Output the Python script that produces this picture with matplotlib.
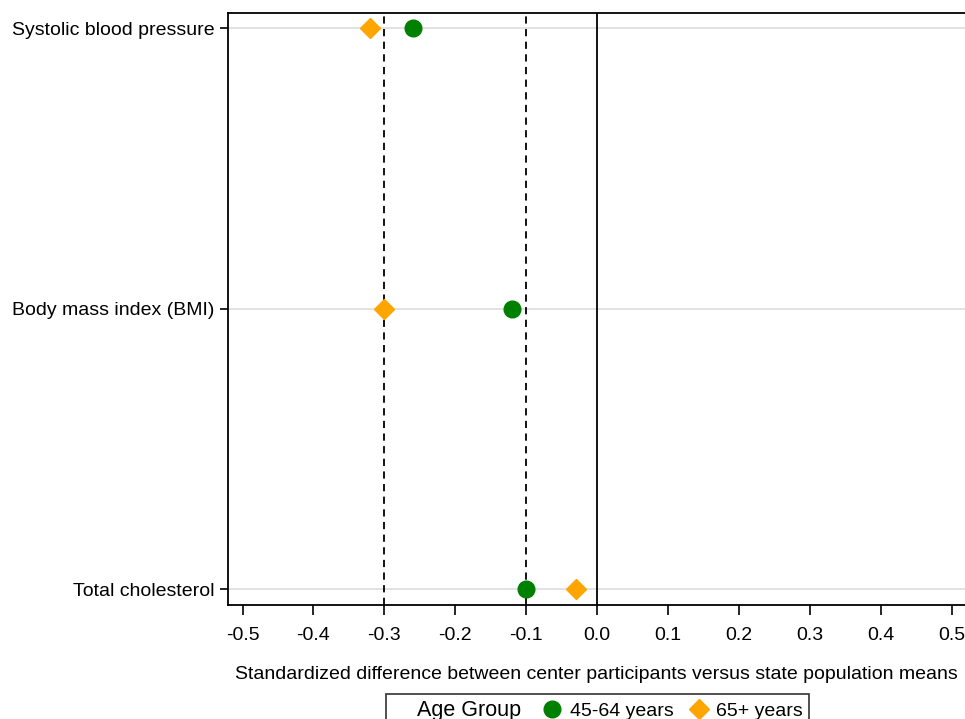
import matplotlib
matplotlib.use("Agg")
from matplotlib import pyplot as plt
from matplotlib.lines import Line2D

plt.rcParams['font.family'] = ['Liberation Sans', 'DejaVu Sans']

measures = ['Systolic blood pressure', 'Body mass index (BMI)', 'Total cholesterol']
age_45_64 = [-0.26, -0.12, -0.10]
age_65 = [-0.32, -0.30, -0.03]
xticks = [-0.5, -0.4, -0.3, -0.2, -0.1, 0.0, 0.1, 0.2, 0.3, 0.4, 0.5]
ref_lines = [-0.3, -0.1]

fig = plt.figure(figsize=(9.65, 7.19), dpi=100)
ax = fig.add_axes([0.2363, 0.1585, 0.7637, 0.8235])

ypos = [2, 1, 0]
for y in ypos:
    ax.axhline(y, color='#dddddd', lw=1.2, zorder=0)
for r in ref_lines:
    ax.axvline(r, color='k', ls=(0, (4, 3)), lw=1.3, zorder=1)
ax.axvline(0.0, color='k', lw=1.3, zorder=1)

ax.plot(age_45_64, ypos, 'o', color='green', ms=12, ls='none', zorder=3)
ax.plot(age_65, ypos, 'D', color='orange', ms=10, ls='none', zorder=3)

ax.set_xlim(-0.5205, 0.519)
ax.set_ylim(-0.057, 2.054)
ax.set_xticks(xticks)
ax.set_xticklabels(['%.1f' % v for v in xticks])
ax.set_yticks(ypos)
ax.set_yticklabels(measures)
ax.tick_params(axis='x', labelsize=14, length=7, width=1.2, pad=9)
ax.tick_params(axis='y', labelsize=14, length=6, width=1.2, pad=4)
for s in ax.spines.values():
    s.set_linewidth(1.3)
ax.spines['right'].set_visible(False)
ax.set_xlabel('Standardized difference between center participants versus state population means',
              fontsize=14, labelpad=16)

handles = [Line2D([], [], ls='none'),
           Line2D([], [], marker='o', color='green', ls='none', ms=12),
           Line2D([], [], marker='D', color='orange', ls='none', ms=10)]
labels = ['Age Group ', '45-64 years', '65+ years']
leg = fig.legend(handles, labels, ncol=3, loc='upper center', bbox_to_anchor=(0.619, 0.0348),
                 frameon=True, fancybox=False, edgecolor='k', fontsize=14,
                 handlelength=0.8, handletextpad=0.5, columnspacing=0.9,
                 borderpad=0.3, borderaxespad=0)
leg.get_frame().set_linewidth(1.2)
leg.get_texts()[0].set_fontsize(15.5)

fig.savefig('out.png', dpi=100)
